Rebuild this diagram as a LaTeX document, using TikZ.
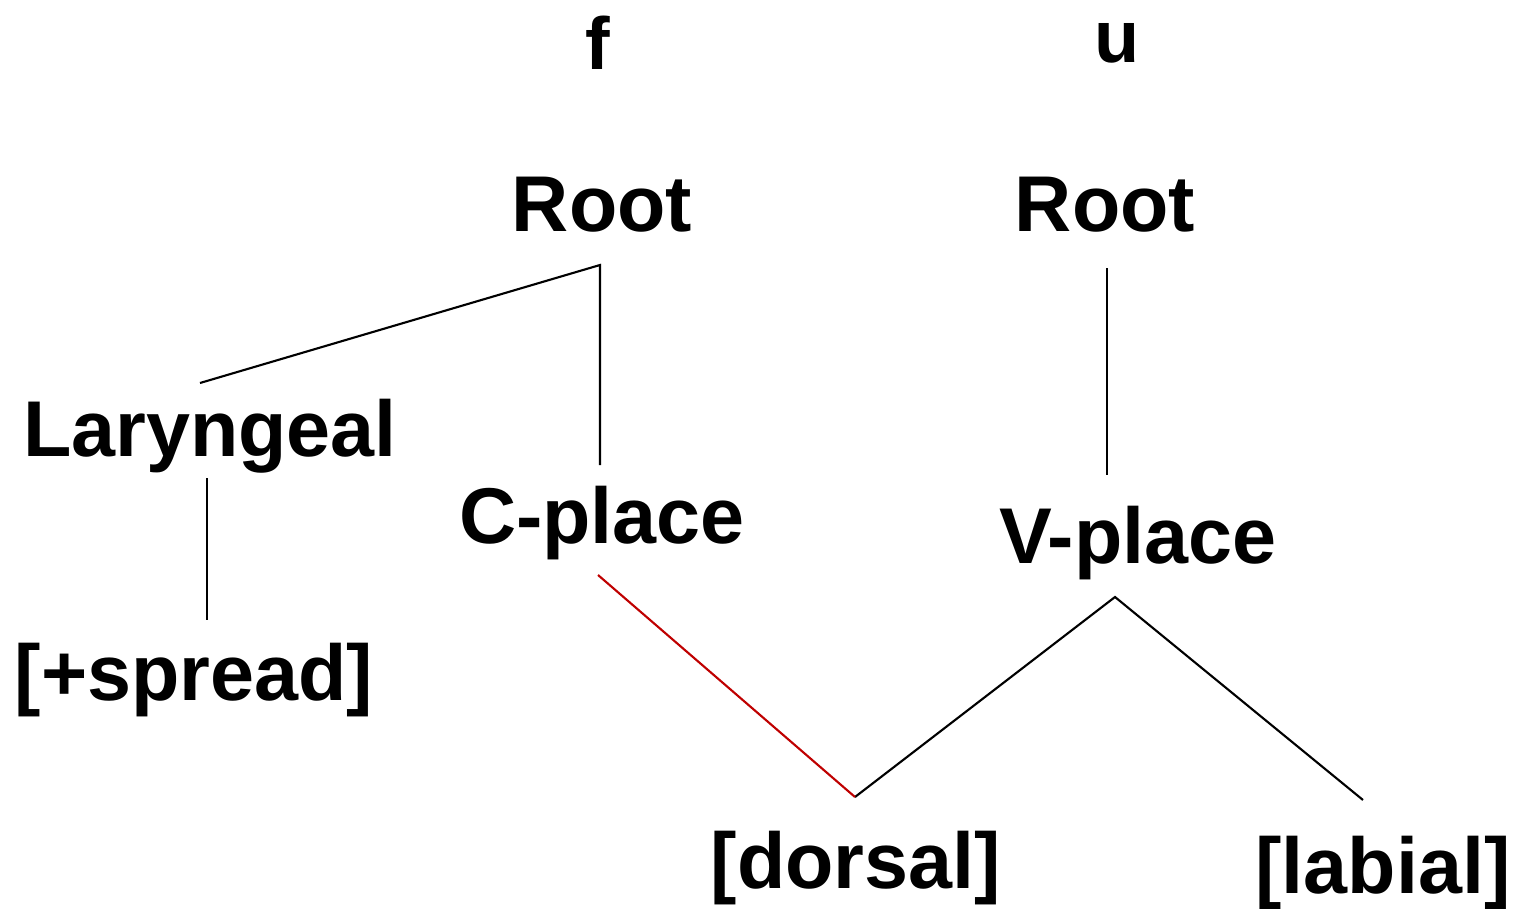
\documentclass[tikz,border=0pt]{standalone}
\usepackage{fontspec}
\setmainfont{Liberation Sans}
\begin{document}
\begin{tikzpicture}[x=0.01cm,y=-0.01cm,
  lbl/.style={font=\bfseries\fontsize{22.5}{27}\selectfont, anchor=base, inner sep=0pt},
  seg/.style={font=\bfseries\fontsize{21}{25}\selectfont, anchor=base, inner sep=0pt},
  branch/.style={line width=0.6pt, black},
  link/.style={line width=0.6pt, red!75!black}]
  \useasboundingbox (0,0) rectangle (1515,909);

  % segment labels
  \node[seg] (f) at (598,70) {f};
  \node[seg] (u) at (1117,62) {u};

  % feature-tree nodes
  \node[lbl] (root1) at (602,231) {Root};
  \node[lbl] (root2) at (1105,231) {Root};
  \node[lbl] (lar)   at (210,456) {Laryngeal};
  \node[lbl] (cpl)   at (602,543) {C-place};
  \node[lbl] (vpl)   at (1138,563) {V-place};
  \node[lbl] (spr)   at (194,700) {[+spread]};
  \node[lbl] (dor)   at (856,888) {[dorsal]};
  \node[lbl] (lab)   at (1383,893) {[labial]};

  % line end points beside the labels
  \coordinate (root1b) at (600,265);
  \coordinate (root2b) at (1107,268);
  \coordinate (lart)   at (200,383);
  \coordinate (larb)   at (207,478);
  \coordinate (cplt)   at (600,465);
  \coordinate (cplb)   at (598,575);
  \coordinate (vplt)   at (1107,475);
  \coordinate (vplb)   at (1115,597);
  \coordinate (sprt)   at (207,620);
  \coordinate (dort)   at (855,797);
  \coordinate (labt)   at (1363,800);

  % association lines
  \draw[branch] (lart) -- (root1b) -- (cplt);
  \draw[branch] (larb) -- (sprt);
  \draw[branch] (root2b) -- (vplt);
  \draw[branch] (dort) -- (vplb) -- (labt);
  \draw[link] (cplb) -- (dort);
\end{tikzpicture}
\end{document}
